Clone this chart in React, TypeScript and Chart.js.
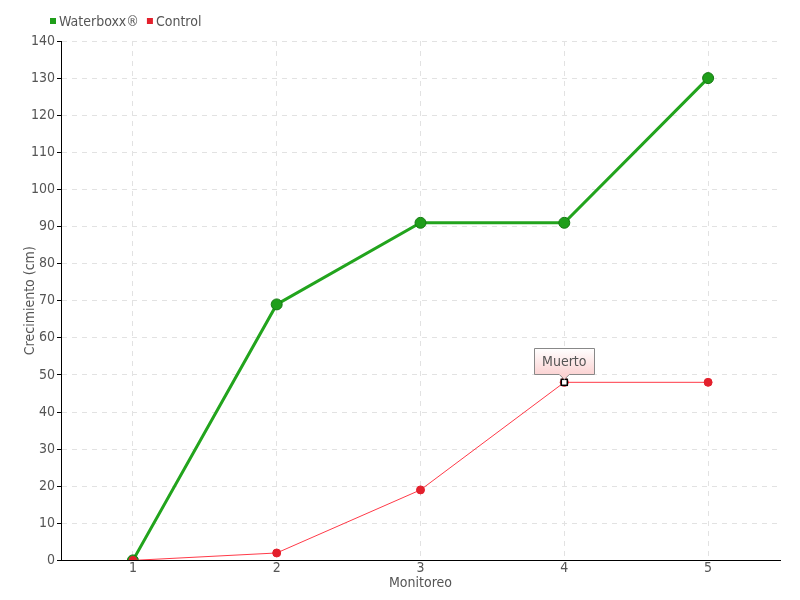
import React, { useEffect, useRef } from "react";
import { Chart, registerables } from "chart.js";

Chart.register(...registerables);

const categories = ["1", "2", "3", "4", "5"];
const waterboxx = [0, 69, 91, 91, 130];
const control = [0, 2, 19, 48, 48];
const seriesNames = ["Waterboxx®", "Control"];
const seriesColors = ["#1f9e1a", "#e3202c"];
const annotationIndex = 3;
const annotationText = "Muerto";

const FONT = "'Liberation Sans Narrow', 'DejaVu Sans Condensed', 'Roboto', sans-serif";

const annotationPlugin = {
  id: "muerto",
  afterDatasetsDraw(chart: any) {
    const meta = chart.getDatasetMeta(1);
    const el = meta.data[annotationIndex];
    if (!el) return;
    const ctx = chart.ctx;
    const px = el.x;
    const py = el.y;
    ctx.save();
    ctx.setLineDash([]);
    ctx.beginPath();
    ctx.arc(px, py, 4.5, 0, Math.PI * 2);
    ctx.fillStyle = "#e3202c";
    ctx.fill();
    ctx.fillStyle = "#ffffff";
    ctx.strokeStyle = "#000000";
    ctx.lineWidth = 1.5;
    ctx.fillRect(px - 3, py - 3, 6, 6);
    ctx.strokeRect(px - 3, py - 3, 6, 6);
    ctx.font = "14px " + FONT;
    const tw = ctx.measureText(annotationText).width;
    const w = Math.round(tw + 16);
    const h = 26;
    const bx = Math.round(px - w / 2) + 0.5;
    const by = Math.round(py - 8 - h) + 0.5;
    const grad = ctx.createLinearGradient(0, by, 0, by + h);
    grad.addColorStop(0, "#ffffff");
    grad.addColorStop(1, "#fbd3d3");
    ctx.beginPath();
    ctx.moveTo(bx, by);
    ctx.lineTo(bx + w, by);
    ctx.lineTo(bx + w, by + h);
    ctx.lineTo(px + 5, by + h);
    ctx.lineTo(px, by + h + 5);
    ctx.lineTo(px - 5, by + h);
    ctx.lineTo(bx, by + h);
    ctx.closePath();
    ctx.fillStyle = grad;
    ctx.fill();
    ctx.strokeStyle = "#888888";
    ctx.lineWidth = 1;
    ctx.stroke();
    ctx.fillStyle = "#555555";
    ctx.textAlign = "center";
    ctx.textBaseline = "middle";
    ctx.fillText(annotationText, px, by + h / 2 + 1);
    ctx.restore();
  },
};

const legendAxesPlugin = {
  id: "legendAxes",
  afterDraw(chart: any) {
    const ctx = chart.ctx;
    const area = chart.chartArea;
    ctx.save();
    ctx.setLineDash([]);
    ctx.strokeStyle = "#000";
    ctx.lineWidth = 1;
    ctx.beginPath();
    ctx.moveTo(Math.round(area.left) + 0.5, area.top);
    ctx.lineTo(Math.round(area.left) + 0.5, Math.round(area.bottom) + 0.5);
    ctx.lineTo(area.right, Math.round(area.bottom) + 0.5);
    ctx.stroke();
    ctx.font = "14px " + FONT;
    ctx.textBaseline = "middle";
    ctx.textAlign = "left";
    let x = 50;
    const y = 21;
    seriesNames.forEach((name, i) => {
      ctx.fillStyle = seriesColors[i];
      ctx.fillRect(x, y - 3, 6, 6);
      ctx.fillStyle = "#555";
      ctx.fillText(name, x + 9, y + 1);
      x += 9 + ctx.measureText(name).width + 8;
    });
    ctx.restore();
  },
};

export default function App() {
  const ref = useRef<HTMLCanvasElement | null>(null);
  useEffect(() => {
    if (!ref.current) return;
    const chart = new Chart(ref.current, {
      type: "line",
      data: {
        labels: categories,
        datasets: [
          {
            label: seriesNames[0],
            data: waterboxx,
            order: 1,
            borderColor: "#22a41d",
            backgroundColor: "#1f9e1a",
            borderWidth: 3,
            pointRadius: 5.5,
            pointBackgroundColor: "#1f9e1a",
            pointBorderColor: "#157a12",
            pointBorderWidth: 1,
            tension: 0,
          },
          {
            label: seriesNames[1],
            data: control,
            order: 0,
            borderColor: "#ff3a48",
            backgroundColor: "#e3202c",
            borderWidth: 1,
            pointRadius: control.map((_, i) => (i === annotationIndex ? 0 : 4)),
            pointBackgroundColor: "#e3202c",
            pointBorderColor: "#e3202c",
            pointBorderWidth: 1,
            tension: 0,
          },
        ],
      },
      options: {
        animation: false,
        responsive: false,
        layout: { padding: { left: 22, right: 20, top: 41, bottom: 8 } },
        plugins: {
          tooltip: { enabled: false },
          legend: { display: false },
        },
        scales: {
          x: {
            offset: true,
            grid: {
              offset: false,
              color: "#e2e2e2",
              drawTicks: false,
            },
            border: { display: true, color: "#000", width: 1, dash: [5, 5] },
            ticks: { color: "#555", font: { family: FONT, size: 14 }, padding: 0 },
            title: {
              display: true,
              text: "Monitoreo",
              color: "#555",
              font: { family: FONT, size: 14 },
              padding: { top: -2, bottom: 0 },
            },
          },
          y: {
            min: 0,
            max: 140,
            afterFit(scale: any) {
              scale.width = 39;
            },
            ticks: { stepSize: 10, color: "#555", font: { family: FONT, size: 14 }, padding: 2 },
            grid: {
              color: "#e2e2e2",
              tickColor: "#000",
              tickLength: 4,
              tickBorderDash: [],
            },
            border: { display: true, color: "#000", width: 1, dash: [5, 5] },
            title: {
              display: true,
              text: "Crecimiento (cm)",
              color: "#555",
              font: { family: FONT, size: 14 },
              padding: { top: 0, bottom: 2 },
            },
          },
        },
      },
      plugins: [annotationPlugin, legendAxesPlugin],
    } as any);
    return () => chart.destroy();
  }, []);
  return (
    <div style={{ position: "fixed", left: 0, top: 0, width: 800, height: 600, background: "#fff" }}>
      <canvas ref={ref} width={800} height={600} />
    </div>
  );
}
